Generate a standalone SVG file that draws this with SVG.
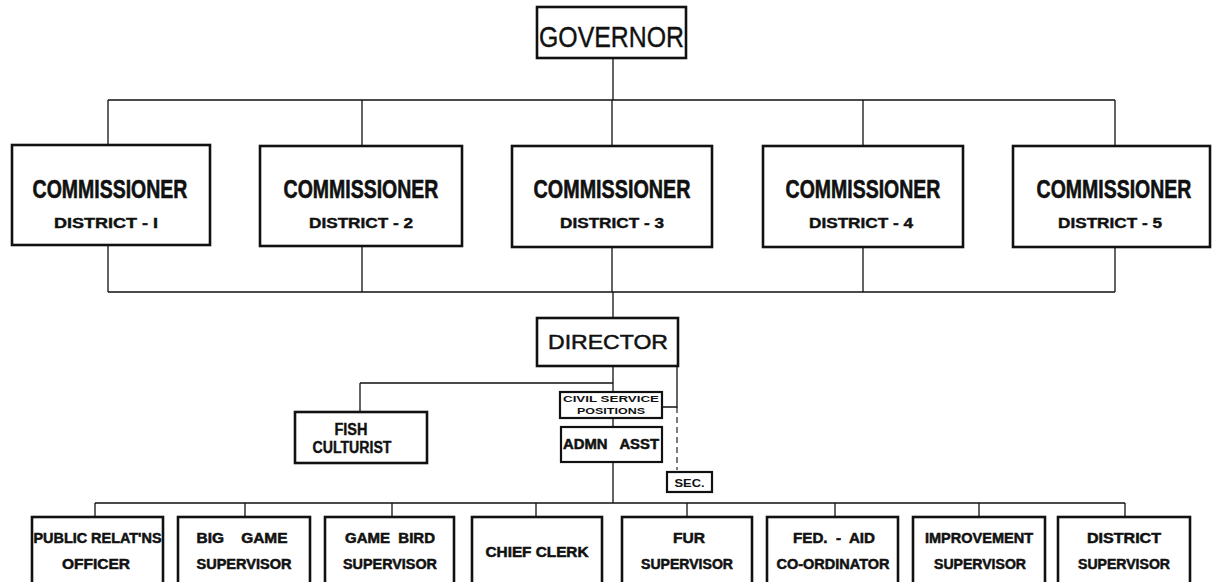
<svg xmlns="http://www.w3.org/2000/svg" width="1212" height="582" viewBox="0 0 1212 582">
<style>
.bg{fill:#ffffff}
.box{fill:#ffffff;stroke:#111;stroke-width:2.6}
.sbox{fill:#ffffff;stroke:#111;stroke-width:2.2}
.ln{fill:none;stroke:#111;stroke-width:1.3}
.dash{fill:none;stroke:#111;stroke-width:1.1;stroke-dasharray:6 4}
.t{font-family:"Liberation Sans",Arial,sans-serif;fill:#111;text-anchor:middle}
.big{font-size:30px;font-weight:normal;stroke:#111;stroke-width:0.4}
.dir{font-size:21px;font-weight:normal;stroke:#111;stroke-width:0.5}
.com{font-size:26px;font-weight:bold;stroke:#111;stroke-width:0.6}
.dis{font-size:14px;font-weight:bold;stroke:#111;stroke-width:0.4}
.lab{font-size:14px;font-weight:bold;stroke:#111;stroke-width:0.5}
.fish{font-size:16px;font-weight:bold;stroke:#111;stroke-width:0.4}
.tiny{font-size:9px;font-weight:bold}
.sec{font-size:11px;font-weight:bold}
</style>
<rect class="bg" x="0" y="0" width="1212" height="582"/>
<g id="connectors">
<path class="ln" d="M613 57 V100 M108 100 H1115 M108 100 V145 M362 100 V146 M612 100 V146 M863 100 V146 M1115 100 V145"/>
<path class="ln" d="M108 245 V292 M362 246 V292 M612 247 V292 M863 247 V292 M1115 247 V292 M108 292 H1115 M613 292 V318"/>
<path class="ln" d="M613 366 V503 M360 383 H613 M360 383 V412 M677 366 V407 H662"/>
<path class="dash" d="M677 407 V470"/>
<path class="ln" d="M95 503 H1125 M95 503 V517 M245 503 V517 M392 503 V517 M536 503 V517 M687 503 V517 M835 503 V517 M979 503 V517 M1125 503 V517"/>
</g>
<g id="governor">
<rect class="box" x="537" y="7" width="149" height="51"/>
<text class="t big" x="611.5" y="47" textLength="145" lengthAdjust="spacingAndGlyphs">GOVERNOR</text>
</g>
<g id="commissioner1">
<rect class="box" x="12" y="145" width="198" height="100"/>
<text class="t com" transform="translate(110 198) scale(0.75 1)">COMMISSIONER</text>
<text class="t dis" x="106" y="228" textLength="104" lengthAdjust="spacingAndGlyphs">DISTRICT - I</text>
</g>
<g id="commissioner2">
<rect class="box" x="260" y="146" width="202" height="100"/>
<text class="t com" transform="translate(361 198) scale(0.75 1)">COMMISSIONER</text>
<text class="t dis" x="361" y="228" textLength="104" lengthAdjust="spacingAndGlyphs">DISTRICT - 2</text>
</g>
<g id="commissioner3">
<rect class="box" x="512" y="146" width="200" height="101"/>
<text class="t com" transform="translate(612 198) scale(0.76 1)">COMMISSIONER</text>
<text class="t dis" x="612" y="228" textLength="104" lengthAdjust="spacingAndGlyphs">DISTRICT - 3</text>
</g>
<g id="commissioner4">
<rect class="box" x="763" y="146" width="200" height="101"/>
<text class="t com" transform="translate(863 198) scale(0.75 1)">COMMISSIONER</text>
<text class="t dis" x="861" y="228" textLength="104" lengthAdjust="spacingAndGlyphs">DISTRICT - 4</text>
</g>
<g id="commissioner5">
<rect class="box" x="1013" y="146" width="197" height="101"/>
<text class="t com" transform="translate(1114 198) scale(0.75 1)">COMMISSIONER</text>
<text class="t dis" x="1110" y="228" textLength="104" lengthAdjust="spacingAndGlyphs">DISTRICT - 5</text>
</g>
<g id="director">
<rect class="box" x="537" y="318" width="141" height="48"/>
<text class="t dir" x="608" y="349" textLength="120" lengthAdjust="spacingAndGlyphs">DIRECTOR</text>
</g>
<g id="fish-culturist">
<rect class="box" x="295" y="412" width="132" height="51"/>
<text class="t fish" x="351" y="435" textLength="33" lengthAdjust="spacingAndGlyphs">FISH</text>
<text class="t fish" x="352" y="453" textLength="79" lengthAdjust="spacingAndGlyphs">CULTURIST</text>
</g>
<g id="civil-service">
<rect class="sbox" x="560" y="392" width="102" height="26"/>
<text class="t tiny" x="611" y="402" textLength="96" lengthAdjust="spacingAndGlyphs">CIVIL SERVICE</text>
<text class="t tiny" x="611" y="414" textLength="68" lengthAdjust="spacingAndGlyphs">POSITIONS</text>
</g>
<g id="admn-asst">
<rect class="sbox" x="561" y="427" width="101" height="35"/>
<text class="t lab" x="611" y="449" textLength="96" lengthAdjust="spacingAndGlyphs" xml:space="preserve">ADMN   ASST</text>
</g>
<g id="sec">
<rect class="sbox" x="667" y="472" width="45" height="20"/>
<text class="t sec" x="689.5" y="486.5" textLength="30" lengthAdjust="spacingAndGlyphs">SEC.</text>
</g>
<g id="public-relations">
<rect class="box" x="32" y="517" width="131" height="75"/>
<text class="t lab" x="97.5" y="543" textLength="128" lengthAdjust="spacingAndGlyphs">PUBLIC RELAT'NS</text>
<text class="t lab" x="96" y="569" textLength="68" lengthAdjust="spacingAndGlyphs">OFFICER</text>
</g>
<g id="big-game">
<rect class="box" x="178" y="517" width="132" height="75"/>
<text class="t lab" x="242" y="543" textLength="91" lengthAdjust="spacingAndGlyphs" xml:space="preserve">BIG    GAME</text>
<text class="t lab" x="244" y="569" textLength="95" lengthAdjust="spacingAndGlyphs">SUPERVISOR</text>
</g>
<g id="game-bird">
<rect class="box" x="325" y="517" width="129" height="75"/>
<text class="t lab" x="390" y="543" textLength="90" lengthAdjust="spacingAndGlyphs" xml:space="preserve">GAME  BIRD</text>
<text class="t lab" x="390" y="569" textLength="94" lengthAdjust="spacingAndGlyphs">SUPERVISOR</text>
</g>
<g id="chief-clerk">
<rect class="box" x="472" y="517" width="130" height="75"/>
<text class="t lab" x="537" y="557" textLength="103" lengthAdjust="spacingAndGlyphs">CHIEF CLERK</text>
</g>
<g id="fur">
<rect class="box" x="622" y="517" width="130" height="75"/>
<text class="t lab" x="689" y="543" textLength="32" lengthAdjust="spacingAndGlyphs">FUR</text>
<text class="t lab" x="687" y="569" textLength="92" lengthAdjust="spacingAndGlyphs">SUPERVISOR</text>
</g>
<g id="fed-aid">
<rect class="box" x="767" y="517" width="131" height="75"/>
<text class="t lab" x="834" y="543" textLength="82" lengthAdjust="spacingAndGlyphs" xml:space="preserve">FED.  -  AID</text>
<text class="t lab" x="833" y="569" textLength="113" lengthAdjust="spacingAndGlyphs">CO-ORDINATOR</text>
</g>
<g id="improvement">
<rect class="box" x="913" y="517" width="132" height="75"/>
<text class="t lab" x="979" y="543" textLength="108" lengthAdjust="spacingAndGlyphs">IMPROVEMENT</text>
<text class="t lab" x="980" y="569" textLength="92" lengthAdjust="spacingAndGlyphs">SUPERVISOR</text>
</g>
<g id="district-supervisor">
<rect class="box" x="1058" y="517" width="132" height="75"/>
<text class="t lab" x="1124" y="543" textLength="74" lengthAdjust="spacingAndGlyphs">DISTRICT</text>
<text class="t lab" x="1124" y="569" textLength="92" lengthAdjust="spacingAndGlyphs">SUPERVISOR</text>
</g>
</svg>
